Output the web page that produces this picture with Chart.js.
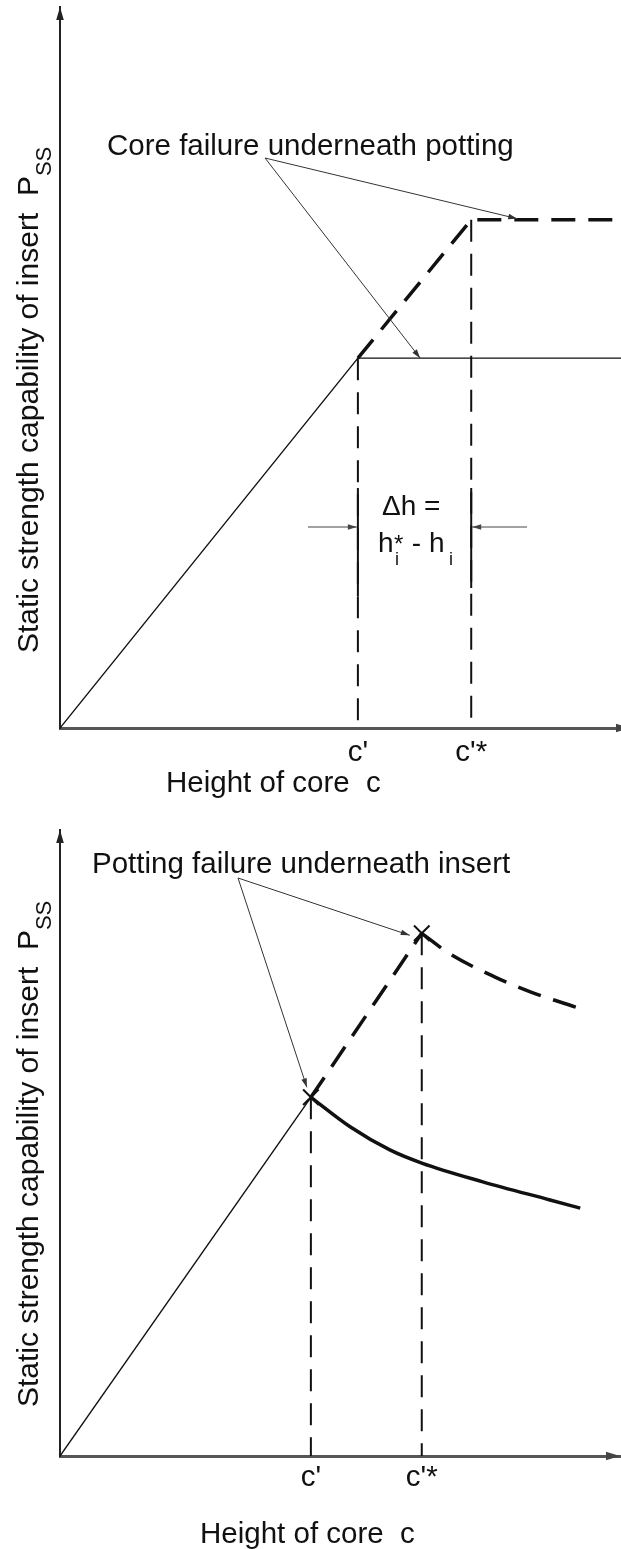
<!DOCTYPE html>
<html>
<head>
<meta charset="utf-8">
<title>Static strength capability of insert</title>
<script src="https://cdn.jsdelivr.net/npm/chart.js@4.4.1/dist/chart.umd.min.js"></script>
<style>
  body { margin: 0; background: #fff; }
  canvas { display: block; }
</style>
</head>
<body>
<canvas id="coreChart" width="621" height="800"></canvas>
<canvas id="pottingChart" width="621" height="749"></canvas>
<script>
// labels on the core height axis
const heightTicks = ["c'", "c'*"];

// upper panel: core failure underneath potting
const coreHeights = [5.31, 7.33];          // c', c'*
const coreRampX = [0, 5.31, 10];
const coreRampY = [0, 5.13, 5.13];
const coreDashX = [5.31, 7.33, 9.86];
const coreDashY = [5.13, 7.05, 7.05];

// lower panel: potting failure underneath insert
const pottingHeights = [4.48, 6.46];       // c', c'*
const pottingPeaks = [5.73, 8.35];
const pottingRampX = [0, 4.48];
const pottingRampY = [0, 5.73];
const pottingRiseX = [4.48, 6.46];
const pottingRiseY = [5.73, 8.35];
const pottingSolidX = [4.48, 5.18, 5.89, 6.46, 7.55, 8.75, 9.29];
const pottingSolidY = [5.73, 5.26, 4.89, 4.68, 4.38, 4.09, 3.96];
const pottingDashX = [6.46, 6.93, 7.77, 8.41, 9.21];
const pottingDashY = [8.35, 8.04, 7.65, 7.41, 7.17];

const FONT = '"Liberation Sans", Arial, Helvetica, sans-serif';
const INK = '#111';

function series(xs, ys, extra) {
    return Object.assign({
        data: xs.map((x, i) => ({ x: x, y: ys[i] })),
        showLine: true,
        borderColor: INK,
        borderWidth: 1.4,
        pointRadius: 0,
        tension: 0,
        fill: false,
    }, extra);
}

const thickDash = { borderWidth: 3.5, borderDash: [24, 13] };
const guideDash = { borderWidth: 2, borderDash: [22, 12] };

function chartOptions(o) {
    return {
        responsive: false,
        animation: false,
        events: [],
        layout: { autoPadding: false, padding: { top: o.top, right: o.right, left: 0, bottom: 0 } },
        plugins: { legend: { display: false }, tooltip: { enabled: false } },
        scales: {
            x: {
                type: 'linear', min: 0, max: 10,
                grid: { display: false, drawTicks: false },
                border: { color: '#555', width: 3 },
                afterFit: s => {
                    s.height = o.xHeight;
                    s.paddingLeft = 0;
                    s.paddingRight = 0;
                },
                afterBuildTicks: s => { s.ticks = o.ticks.map(v => ({ value: v })); },
                ticks: {
                    padding: o.tickPad, color: INK, autoSkip: false, maxRotation: 0,
                    font: { family: FONT, size: 29.5 },
                    callback: (v, i) => heightTicks[i],
                },
            },
            y: {
                type: 'linear', min: 0, max: 10,
                grid: { display: false, drawTicks: false },
                border: { color: '#222', width: 2 },
                ticks: { display: false },
                afterFit: s => {
                    s.width = 60;
                    s.paddingTop = 0;
                    s.paddingBottom = 0;
                },
            },
        },
    };
}

// drawing helpers for the plugins
function label(ctx, str, x, y, size) {
    ctx.font = size + 'px ' + FONT;
    ctx.fillStyle = INK;
    ctx.textAlign = 'left';
    ctx.textBaseline = 'alphabetic';
    ctx.fillText(str, x, y);
}

function head(ctx, x0, y0, x1, y1, len, half) {
    const ang = Math.atan2(y1 - y0, x1 - x0);
    ctx.beginPath();
    ctx.moveTo(x1, y1);
    ctx.lineTo(x1 - len * Math.cos(ang) + half * Math.sin(ang), y1 - len * Math.sin(ang) - half * Math.cos(ang));
    ctx.lineTo(x1 - len * Math.cos(ang) - half * Math.sin(ang), y1 - len * Math.sin(ang) + half * Math.cos(ang));
    ctx.closePath();
    ctx.fill();
}

function arrow(ctx, x0, y0, x1, y1, color) {
    ctx.strokeStyle = color || '#333';
    ctx.fillStyle = color || '#333';
    ctx.lineWidth = 1;
    ctx.setLineDash([]);
    ctx.beginPath();
    ctx.moveTo(x0, y0);
    ctx.lineTo(x1, y1);
    ctx.stroke();
    head(ctx, x0, y0, x1, y1, 9, 2.8);
}

function axisHeads(ctx, a, xTip) {
    ctx.fillStyle = '#222';
    head(ctx, a.left, a.top + 20, a.left, a.top, 13, 3.8);
    ctx.fillStyle = '#444';
    head(ctx, a.left, a.bottom, xTip, a.bottom, 14, 4.2);
}

function yTitle(ctx, baseX, startY) {
    ctx.save();
    ctx.translate(baseX, startY);
    ctx.rotate(-Math.PI / 2);
    ctx.fillStyle = INK;
    ctx.textBaseline = 'alphabetic';
    ctx.textAlign = 'left';
    ctx.font = '30px ' + FONT;
    const main = 'Static strength capability of insert  P';
    ctx.fillText(main, 0, 0);
    const w = ctx.measureText(main).width;
    ctx.font = '22px ' + FONT;
    ctx.fillText('SS', w, 13);
    ctx.restore();
}

const coreDecor = {
    id: 'coreDecor',
    afterDraw(chart) {
        const { ctx, chartArea: a } = chart;
        const { x, y } = chart.scales;
        ctx.save();
        axisHeads(ctx, a, a.right + 9);
        yTitle(ctx, 38, 653);
        label(ctx, 'Core failure underneath potting', 107, 155, 29.5);
        label(ctx, 'Height of core  c', 166, 792, 29.5);

        // leaders to both plateaus
        arrow(ctx, 265, 158, x.getPixelForValue(8.15), y.getPixelForValue(coreDashY[2]) - 1);
        arrow(ctx, 265, 158, x.getPixelForValue(6.42), y.getPixelForValue(coreRampY[2]));

        // dimension between c' and c'*
        const x1 = x.getPixelForValue(coreHeights[0]);
        const x2 = x.getPixelForValue(coreHeights[1]);
        ctx.strokeStyle = INK;
        ctx.lineWidth = 2;
        ctx.beginPath();
        ctx.moveTo(x1, 488); ctx.lineTo(x1, 596);
        ctx.moveTo(x2, 488); ctx.lineTo(x2, 588);
        ctx.stroke();
        arrow(ctx, 308, 527, x1 - 1, 527, '#444');
        arrow(ctx, 527, 527, x2 + 1, 527, '#444');

        label(ctx, '\u0394h =', 382, 515, 28);
        label(ctx, 'h', 378, 552, 28);
        label(ctx, '*', 394, 552, 24);
        label(ctx, 'i', 395, 565, 18);
        label(ctx, ' - h', 404, 552, 28);
        label(ctx, 'i', 449, 565, 18);
        ctx.restore();
    }
};

const pottingDecor = {
    id: 'pottingDecor',
    afterDraw(chart) {
        const { ctx, chartArea: a } = chart;
        const { x, y } = chart.scales;
        ctx.save();
        axisHeads(ctx, a, a.right);
        yTitle(ctx, 38, 607);
        label(ctx, 'Potting failure underneath insert', 92, 73, 29.5);
        label(ctx, 'Height of core  c', 200, 743, 29.5);

        const lowX = x.getPixelForValue(pottingHeights[0]);
        const lowY = y.getPixelForValue(pottingPeaks[0]);
        const upX = x.getPixelForValue(pottingHeights[1]);
        const upY = y.getPixelForValue(pottingPeaks[1]);
        arrow(ctx, 238, 78, upX - 12, upY + 2);
        arrow(ctx, 238, 78, lowX - 4, lowY - 10);
        ctx.restore();
    }
};

new Chart(document.getElementById('coreChart'), {
    type: 'scatter',
    data: {
        datasets: [
            series(coreRampX, coreRampY),
            series(coreDashX, coreDashY, thickDash),
            series([coreHeights[0], coreHeights[0]], [coreRampY[1], 0], guideDash),
            series([coreHeights[1], coreHeights[1]], [coreDashY[1], 0], guideDash),
        ]
    },
    options: chartOptions({ top: 7, right: 0, xHeight: 72, tickPad: 7, ticks: coreHeights }),
    plugins: [coreDecor],
});

new Chart(document.getElementById('pottingChart'), {
    type: 'scatter',
    data: {
        datasets: [
            {
                data: pottingHeights.map((h, i) => ({ x: h, y: pottingPeaks[i] })),
                pointStyle: 'crossRot', pointRadius: 11, borderWidth: 2,
                borderColor: INK, showLine: false,
            },
            series(pottingRampX, pottingRampY),
            series(pottingRiseX, pottingRiseY, thickDash),
            series(pottingSolidX, pottingSolidY, { borderWidth: 3.5, cubicInterpolationMode: 'monotone' }),
            series(pottingDashX, pottingDashY, Object.assign({ cubicInterpolationMode: 'monotone' }, thickDash)),
            series([pottingHeights[0], pottingHeights[0]], [pottingPeaks[0], 0], guideDash),
            series([pottingHeights[1], pottingHeights[1]], [pottingPeaks[1], 0], guideDash),
        ]
    },
    options: chartOptions({ top: 30, right: 1, xHeight: 93, tickPad: 4, ticks: pottingHeights }),
    plugins: [pottingDecor],
});
</script>
</body>
</html>
